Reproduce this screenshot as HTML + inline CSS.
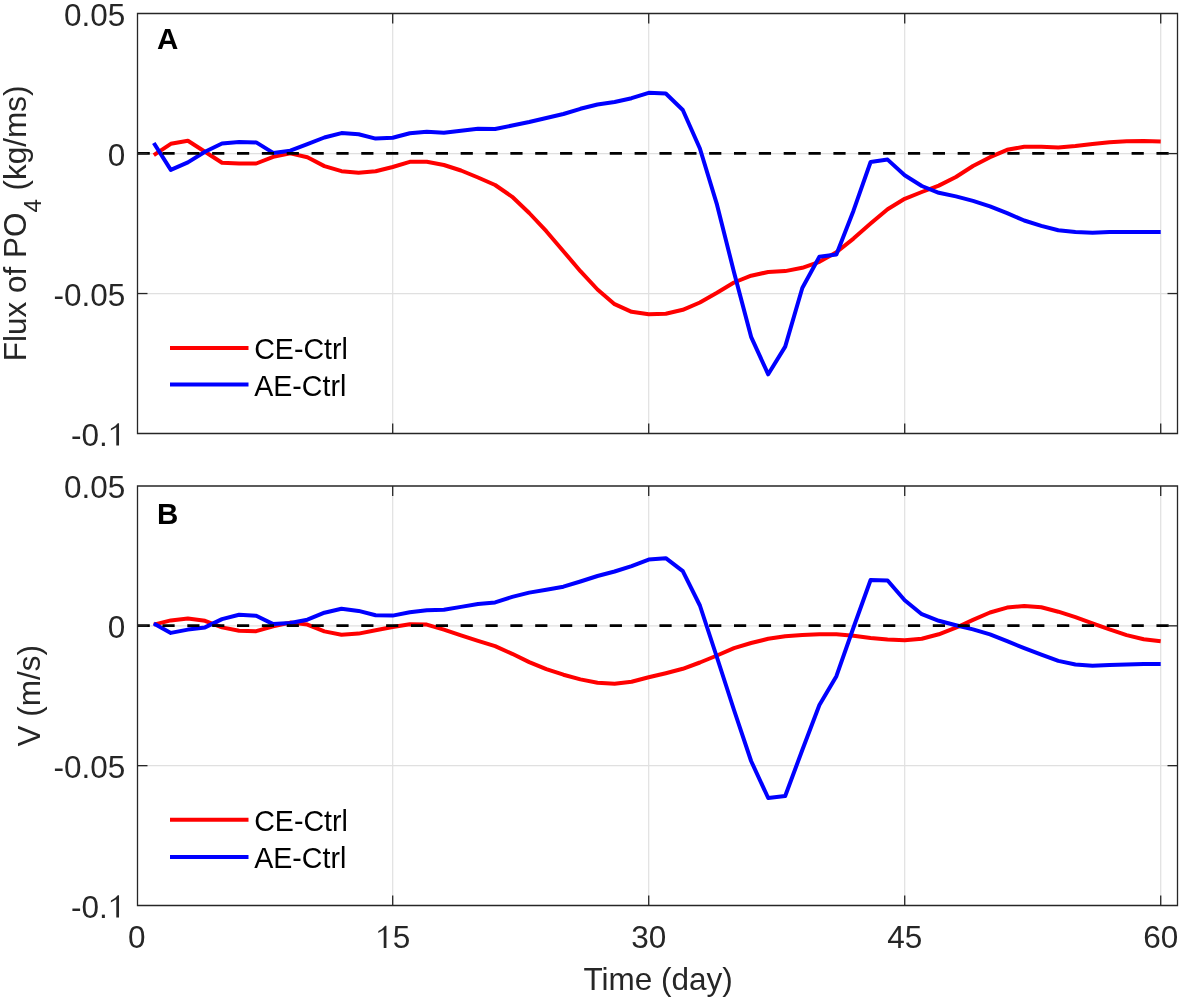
<!DOCTYPE html>
<html><head><meta charset="utf-8"><title>Flux of PO4 and V</title>
<style>
html,body{margin:0;padding:0;background:#fff;}
body{width:1181px;height:999px;overflow:hidden;}
svg{display:block;will-change:transform;}
text{font-family:"Liberation Sans",sans-serif;}
.tk{font-size:31.5px;fill:#262626;}
.yl{font-size:31.5px;fill:#262626;}
.lg{font-size:28.6px;fill:#000;}
.lt{font-size:29.5px;font-weight:bold;fill:#000;}
</style></head>
<body>
<svg width="1181" height="999" viewBox="0 0 1181 999">
<rect width="1181" height="999" fill="#fff"/>
<line x1="392.70" y1="13.5" x2="392.70" y2="433.5" stroke="#e0e0e0" stroke-width="1.2"/>
<line x1="648.71" y1="13.5" x2="648.71" y2="433.5" stroke="#e0e0e0" stroke-width="1.2"/>
<line x1="904.71" y1="13.5" x2="904.71" y2="433.5" stroke="#e0e0e0" stroke-width="1.2"/>
<line x1="1160.72" y1="13.5" x2="1160.72" y2="433.5" stroke="#e0e0e0" stroke-width="1.2"/>
<line x1="137.5" y1="153.57" x2="1177.5" y2="153.57" stroke="#e0e0e0" stroke-width="1.2"/>
<line x1="137.5" y1="293.53" x2="1177.5" y2="293.53" stroke="#e0e0e0" stroke-width="1.2"/>
<polyline points="153.8,155.1 170.8,143.8 187.9,140.7 205.0,151.8 222.0,162.8 239.1,163.5 256.2,163.5 273.2,156.9 290.3,153.4 307.4,157.3 324.4,166.1 341.5,171.2 358.6,172.7 375.6,171.2 392.7,167.0 409.8,161.8 426.8,161.8 443.9,165.0 461.0,170.5 478.0,177.5 495.1,185.0 512.2,196.8 529.2,213.0 546.3,231.2 563.4,251.2 580.4,271.2 597.5,289.5 614.6,304.2 631.6,311.8 648.7,314.2 665.8,313.7 682.8,309.8 699.9,302.5 717.0,292.8 734.0,282.5 751.1,275.7 768.2,272.0 785.2,271.1 802.3,267.8 819.4,261.8 836.4,252.3 853.5,238.6 870.6,223.6 887.6,209.2 904.7,198.8 921.8,192.0 938.8,185.6 955.9,177.0 973.0,166.0 990.0,157.2 1007.1,149.8 1024.2,146.8 1041.3,146.8 1058.3,147.6 1075.4,146.1 1092.5,143.9 1109.5,142.2 1126.6,141.2 1143.7,140.9 1160.7,141.4" fill="none" stroke="#ff0000" stroke-width="4" stroke-linejoin="round" stroke-linecap="butt"/>
<polyline points="153.8,143.0 170.8,169.9 187.9,162.4 205.0,151.8 222.0,143.5 239.1,141.9 256.2,142.4 273.2,152.9 290.3,150.7 307.4,144.1 324.4,137.5 341.5,133.1 358.6,134.2 375.6,138.6 392.7,137.8 409.8,133.2 426.8,131.8 443.9,132.8 461.0,130.8 478.0,128.8 495.1,129.0 512.2,125.5 529.2,122.0 546.3,118.0 563.4,114.0 580.4,108.8 597.5,104.5 614.6,102.0 631.6,98.2 648.7,92.8 665.8,93.5 682.8,110.0 699.9,148.5 717.0,204.7 734.0,272.2 751.1,336.8 768.2,374.3 785.2,346.6 802.3,288.0 819.4,256.8 836.4,254.6 853.5,210.7 870.6,162.0 887.6,159.6 904.7,175.3 921.8,186.0 938.8,192.8 955.9,196.4 973.0,200.9 990.0,206.3 1007.1,213.1 1024.2,220.5 1041.3,225.9 1058.3,230.3 1075.4,232.1 1092.5,232.8 1109.5,232.1 1126.6,232.1 1143.7,232.1 1160.7,232.1" fill="none" stroke="#0000ff" stroke-width="4" stroke-linejoin="round" stroke-linecap="butt"/>
<line x1="137.6" y1="153.37" x2="1177.5" y2="153.37" stroke="#000" stroke-width="2.9" stroke-dasharray="12.2 12.65"/>
<path d="M137.5,13.5H1177.5V433.5H137.5Z" fill="none" stroke="#262626" stroke-width="1.3" stroke-linejoin="miter"/>
<line x1="392.70" y1="433.5" x2="392.70" y2="423.5" stroke="#262626" stroke-width="1.3"/>
<line x1="392.70" y1="13.5" x2="392.70" y2="23.5" stroke="#262626" stroke-width="1.3"/>
<line x1="648.71" y1="433.5" x2="648.71" y2="423.5" stroke="#262626" stroke-width="1.3"/>
<line x1="648.71" y1="13.5" x2="648.71" y2="23.5" stroke="#262626" stroke-width="1.3"/>
<line x1="904.71" y1="433.5" x2="904.71" y2="423.5" stroke="#262626" stroke-width="1.3"/>
<line x1="904.71" y1="13.5" x2="904.71" y2="23.5" stroke="#262626" stroke-width="1.3"/>
<line x1="1160.72" y1="433.5" x2="1160.72" y2="423.5" stroke="#262626" stroke-width="1.3"/>
<line x1="1160.72" y1="13.5" x2="1160.72" y2="23.5" stroke="#262626" stroke-width="1.3"/>
<line x1="137.5" y1="153.57" x2="147.5" y2="153.57" stroke="#262626" stroke-width="1.3"/>
<line x1="1177.5" y1="153.57" x2="1167.5" y2="153.57" stroke="#262626" stroke-width="1.3"/>
<line x1="137.5" y1="293.53" x2="147.5" y2="293.53" stroke="#262626" stroke-width="1.3"/>
<line x1="1177.5" y1="293.53" x2="1167.5" y2="293.53" stroke="#262626" stroke-width="1.3"/>
<text x="125.3" y="25.6" text-anchor="end" class="tk">0.05</text>
<text x="125.3" y="165.6" text-anchor="end" class="tk">0</text>
<text x="125.3" y="305.5" text-anchor="end" class="tk">-0.05</text>
<text x="107.79" y="445.5" text-anchor="end" class="tk">-0.</text>
<path d="M119.03,445.50L119.03,423.29L117.77,423.29Q115.35,426.60 111.00,428.55L110.78,430.47L116.29,427.29L116.29,445.50Z" fill="#262626"/>
<text transform="translate(26.3,223.4) rotate(-90)" text-anchor="middle" class="yl">Flux of PO<tspan font-size="24" dy="15">4</tspan><tspan dy="-15"> (kg/ms)</tspan></text>
<text x="157" y="49.1" class="lt">A</text>
<line x1="170" y1="347.9" x2="248.5" y2="347.9" stroke="#ff0000" stroke-width="4"/>
<line x1="170" y1="384.6" x2="248.5" y2="384.6" stroke="#0000ff" stroke-width="4"/>
<text x="254.2" y="358.9" class="lg">CE-Ctrl</text>
<text x="254.2" y="395.6" class="lg">AE-Ctrl</text>
<line x1="392.70" y1="486.0" x2="392.70" y2="905.5" stroke="#e0e0e0" stroke-width="1.2"/>
<line x1="648.71" y1="486.0" x2="648.71" y2="905.5" stroke="#e0e0e0" stroke-width="1.2"/>
<line x1="904.71" y1="486.0" x2="904.71" y2="905.5" stroke="#e0e0e0" stroke-width="1.2"/>
<line x1="1160.72" y1="486.0" x2="1160.72" y2="905.5" stroke="#e0e0e0" stroke-width="1.2"/>
<line x1="137.5" y1="625.83" x2="1177.5" y2="625.83" stroke="#e0e0e0" stroke-width="1.2"/>
<line x1="137.5" y1="765.67" x2="1177.5" y2="765.67" stroke="#e0e0e0" stroke-width="1.2"/>
<polyline points="153.8,624.6 170.8,620.4 187.9,618.6 205.0,620.8 222.0,627.4 239.1,630.7 256.2,631.2 273.2,626.3 290.3,622.6 307.4,624.6 324.4,631.4 341.5,634.7 358.6,633.6 375.6,630.3 392.7,627.0 409.8,624.2 426.8,624.6 443.9,629.6 461.0,635.3 478.0,640.8 495.1,646.2 512.2,653.8 529.2,662.1 546.3,669.2 563.4,674.7 580.4,679.4 597.5,682.7 614.6,683.7 631.6,681.8 648.7,677.3 665.8,673.2 682.8,668.8 699.9,662.5 717.0,655.5 734.0,648.2 751.1,643.0 768.2,638.8 785.2,636.2 802.3,635.0 819.4,634.2 836.4,634.2 853.5,635.8 870.6,638.0 887.6,639.5 904.7,640.3 921.8,638.8 938.8,634.3 955.9,627.7 973.0,619.9 990.0,612.5 1007.1,607.6 1024.2,605.9 1041.3,607.3 1058.3,611.7 1075.4,617.2 1092.5,623.3 1109.5,629.4 1126.6,635.1 1143.7,639.3 1160.7,641.2" fill="none" stroke="#ff0000" stroke-width="4" stroke-linejoin="round" stroke-linecap="butt"/>
<polyline points="153.8,623.5 170.8,632.9 187.9,629.6 205.0,627.4 222.0,619.1 239.1,614.7 256.2,615.8 273.2,624.1 290.3,623.0 307.4,619.7 324.4,612.7 341.5,608.7 358.6,610.9 375.6,615.3 392.7,615.6 409.8,612.3 426.8,610.2 443.9,609.7 461.0,606.9 478.0,604.0 495.1,602.4 512.2,596.9 529.2,592.6 546.3,589.8 563.4,586.7 580.4,581.5 597.5,576.0 614.6,571.5 631.6,566.1 648.7,559.6 665.8,558.2 682.8,571.2 699.9,605.5 717.0,657.5 734.0,710.0 751.1,761.0 768.2,798.0 785.2,796.0 802.3,750.0 819.4,705.0 836.4,676.2 853.5,627.5 870.6,580.0 887.6,580.5 904.7,600.3 921.8,614.2 938.8,620.8 955.9,625.3 973.0,629.4 990.0,634.3 1007.1,641.2 1024.2,648.1 1041.3,654.7 1058.3,660.9 1075.4,664.5 1092.5,665.8 1109.5,665.0 1126.6,664.5 1143.7,664.1 1160.7,664.1" fill="none" stroke="#0000ff" stroke-width="4" stroke-linejoin="round" stroke-linecap="butt"/>
<line x1="137.6" y1="625.63" x2="1177.5" y2="625.63" stroke="#000" stroke-width="2.9" stroke-dasharray="12.2 12.65"/>
<path d="M137.5,486.0H1177.5V905.5H137.5Z" fill="none" stroke="#262626" stroke-width="1.3" stroke-linejoin="miter"/>
<line x1="392.70" y1="905.5" x2="392.70" y2="895.5" stroke="#262626" stroke-width="1.3"/>
<line x1="392.70" y1="486.0" x2="392.70" y2="496.0" stroke="#262626" stroke-width="1.3"/>
<line x1="648.71" y1="905.5" x2="648.71" y2="895.5" stroke="#262626" stroke-width="1.3"/>
<line x1="648.71" y1="486.0" x2="648.71" y2="496.0" stroke="#262626" stroke-width="1.3"/>
<line x1="904.71" y1="905.5" x2="904.71" y2="895.5" stroke="#262626" stroke-width="1.3"/>
<line x1="904.71" y1="486.0" x2="904.71" y2="496.0" stroke="#262626" stroke-width="1.3"/>
<line x1="1160.72" y1="905.5" x2="1160.72" y2="895.5" stroke="#262626" stroke-width="1.3"/>
<line x1="1160.72" y1="486.0" x2="1160.72" y2="496.0" stroke="#262626" stroke-width="1.3"/>
<line x1="137.5" y1="625.83" x2="147.5" y2="625.83" stroke="#262626" stroke-width="1.3"/>
<line x1="1177.5" y1="625.83" x2="1167.5" y2="625.83" stroke="#262626" stroke-width="1.3"/>
<line x1="137.5" y1="765.67" x2="147.5" y2="765.67" stroke="#262626" stroke-width="1.3"/>
<line x1="1177.5" y1="765.67" x2="1167.5" y2="765.67" stroke="#262626" stroke-width="1.3"/>
<text x="125.3" y="498.0" text-anchor="end" class="tk">0.05</text>
<text x="125.3" y="637.8" text-anchor="end" class="tk">0</text>
<text x="125.3" y="777.7" text-anchor="end" class="tk">-0.05</text>
<text x="107.79" y="917.5" text-anchor="end" class="tk">-0.</text>
<path d="M119.03,917.50L119.03,895.29L117.77,895.29Q115.35,898.60 111.00,900.55L110.78,902.47L116.29,899.29L116.29,917.50Z" fill="#262626"/>
<text transform="translate(40,695.7) rotate(-90)" text-anchor="middle" class="yl">V (m/s)</text>
<text x="157" y="524.0" class="lt">B</text>
<line x1="170" y1="819.8" x2="248.5" y2="819.8" stroke="#ff0000" stroke-width="4"/>
<line x1="170" y1="857.1" x2="248.5" y2="857.1" stroke="#0000ff" stroke-width="4"/>
<text x="254.2" y="830.8" class="lg">CE-Ctrl</text>
<text x="254.2" y="868.1" class="lg">AE-Ctrl</text>
<text x="136.70" y="948" text-anchor="middle" class="tk">0</text>
<path d="M386.44,948.00L386.44,925.79L385.18,925.79Q382.75,929.10 378.40,931.05L378.18,932.97L383.70,929.79L383.70,948.00Z" fill="#262626"/>
<text x="392.70" y="948" class="tk">5</text>
<text x="648.71" y="948" text-anchor="middle" class="tk">30</text>
<text x="904.71" y="948" text-anchor="middle" class="tk">45</text>
<text x="1160.72" y="948" text-anchor="middle" class="tk">60</text>
<text x="658.2" y="989.7" text-anchor="middle" class="yl">Time (day)</text>
</svg>
</body></html>
